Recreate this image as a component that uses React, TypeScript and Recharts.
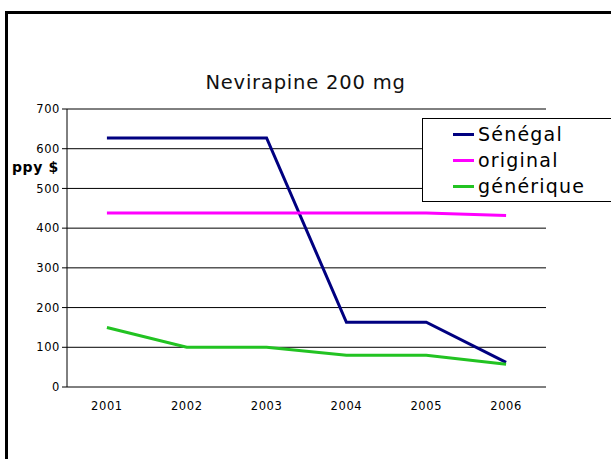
import React from 'react';
import { LineChart, Line, XAxis, YAxis, CartesianGrid, Legend } from 'recharts';

const years = ['2001', '2002', '2003', '2004', '2005', '2006'];
const senegal = [627, 627, 627, 163, 163, 62];
const original = [438, 438, 438, 438, 438, 432];
const generique = [150, 100, 100, 80, 80, 57];
const yTicks = [0, 100, 200, 300, 400, 500, 600, 700];
const boundaryTicks = [0, 1, 2, 3, 4, 5, 6];

const series = [
  { key: 'senegal', name: 'Sénégal', color: '#000080' },
  { key: 'original', name: 'original', color: '#FF00FF' },
  { key: 'generique', name: 'générique', color: '#22C322' },
];

const chartData = years.map((year, i) => ({
  year,
  senegal: senegal[i],
  original: original[i],
  generique: generique[i],
}));

const font = '"DejaVu Sans", Verdana, sans-serif';

const LegendBox = () => (
  <div
    style={{
      border: '1px solid #000',
      background: '#fff',
      padding: '2px 0 2px 30px',
      fontFamily: font,
      fontSize: 19,
      letterSpacing: 1.2,
      lineHeight: '26px',
      width: 200,
      boxSizing: 'border-box',
    }}
  >
    {series.map((s) => (
      <div key={s.key} style={{ display: 'flex', alignItems: 'center' }}>
        <span style={{ display: 'inline-block', width: 21, height: 3, background: s.color, marginRight: 4 }} />
        <span>{s.name}</span>
      </div>
    ))}
  </div>
);

const App: React.FC = () => {
  return (
    <div style={{ position: 'absolute', left: 0, top: 0, width: 611, height: 459, background: '#fff', overflow: 'hidden' }}>
      <div
        style={{
          position: 'absolute',
          left: 5,
          top: 11,
          width: 640,
          height: 480,
          border: '3px solid #000',
        }}
      />
      <div
        style={{
          position: 'absolute',
          left: 0,
          width: 611,
          top: 71,
          textAlign: 'center',
          fontFamily: font,
          fontSize: 19.5,
          letterSpacing: 0.8,
          color: '#111',
        }}
      >
        Nevirapine 200 mg
      </div>
      <div
        style={{
          position: 'absolute',
          left: 12,
          top: 159,
          fontFamily: font,
          fontSize: 14,
          fontWeight: 'bold',
          letterSpacing: 0.6,
          zIndex: 2,
        }}
      >
        ppy $
      </div>
      <LineChart
        width={611}
        height={459}
        data={chartData}
        margin={{ top: 109, right: 65, left: 37, bottom: 42 }}
        style={{ position: 'absolute', left: 0, top: 0 }}
      >
        <CartesianGrid vertical={false} stroke="#000" strokeWidth={1} />
        <XAxis
          xAxisId="bounds"
          type="number"
          domain={[0, 6]}
          ticks={boundaryTicks}
          height={0}
          axisLine={{ stroke: '#808080', strokeWidth: 2 }}
          tickLine={{ stroke: '#000' }}
          tickSize={5}
          tickFormatter={() => ''}
        />
        <XAxis
          dataKey="year"
          scale="band"
          height={30}
          axisLine={false}
          tickLine={false}
          tickMargin={9}
          interval={0}
          tick={{ fontFamily: font, fontSize: 11.5, fill: '#000', letterSpacing: 0.6 }}
        />
        <YAxis
          width={30}
          domain={[0, 700]}
          ticks={yTicks}
          axisLine={{ stroke: '#000' }}
          tickLine={{ stroke: '#000' }}
          tickSize={5}
          tickMargin={2}
          interval={0}
          tick={{ fontFamily: font, fontSize: 11.5, fill: '#000', letterSpacing: 0.6 }}
        />
        <Legend
          layout="horizontal"
          verticalAlign="middle"
          align="center"
          content={<LegendBox />}
          wrapperStyle={{ position: 'absolute', left: 422, top: 118, width: 200 }}
        />
        {series.map((s) => (
          <Line
            key={s.key}
            type="linear"
            dataKey={s.key}
            name={s.name}
            stroke={s.color}
            strokeWidth={3}
            dot={false}
            isAnimationActive={false}
          />
        ))}
      </LineChart>
    </div>
  );
};

export default App;
